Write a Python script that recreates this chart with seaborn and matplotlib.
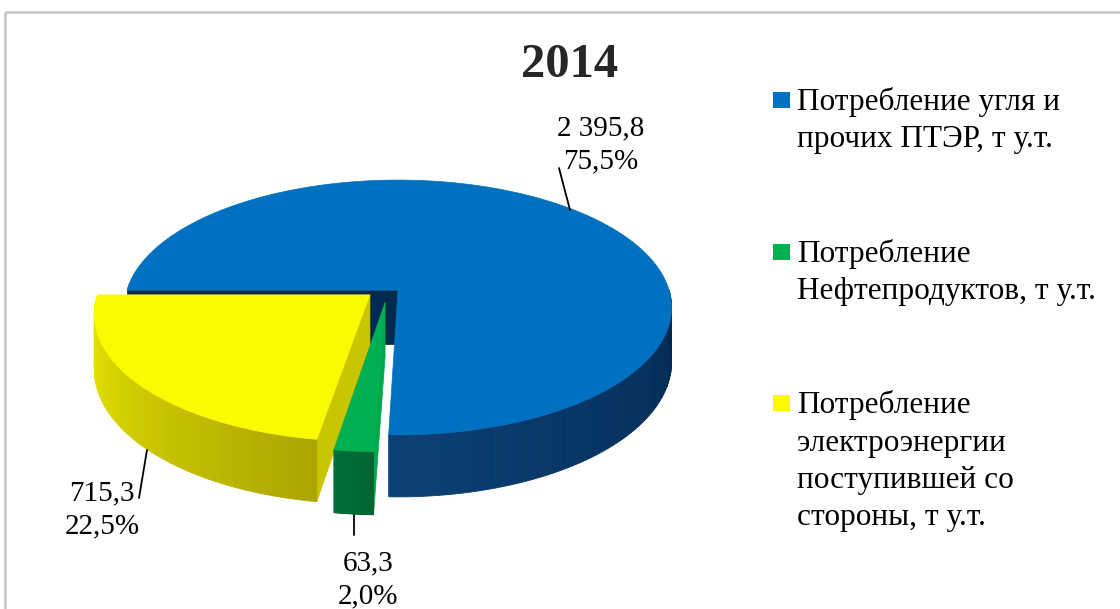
import numpy as np
import matplotlib
matplotlib.use("Agg")
import matplotlib.pyplot as plt
import seaborn as sns
from matplotlib.patches import Polygon, Rectangle
from matplotlib.colors import to_rgb

# --- data ---
title = "2014"
categories = [
    "Потребление угля и\nпрочих ПТЭР, т у.т.",
    "Потребление\nНефтепродуктов, т у.т.",
    "Потребление\nэлектроэнергии\nпоступившей со\nстороны, т у.т.",
]
values = [2395.8, 63.3, 715.3]
explode = [0.0, 0.11, 0.11]
top_colors = ["#0070C0", "#00B050", "#FAFA00"]
wall_colors = [("#0D4076", "#00284E"), ("#00703A", "#006530"), ("#EEEE00", "#ADA500")]
cut_colors = ["#002B4E", "#00A84C", "#C9C500"]

sns.set_theme(style="white")
plt.rcParams["font.family"] = ["Liberation Serif", "DejaVu Serif"]

fig = plt.figure(figsize=(11.2, 6.09), dpi=100)
ax = fig.add_axes([0, 0, 1, 1])
ax.set_xlim(0, 1120)
ax.set_ylim(609, 0)
ax.axis("off")

# pseudo 3d pie geometry (pixels)
CX, CY, RA, RB, DEPTH, H = 398, 290, 271, 125, 7.29, 53.5
EXPLODE_TILT = -20  # degrees, excel pushes exploded slices a bit to the left


def proj(X, Z, down=0.0):
    s = DEPTH / (DEPTH - Z)
    return CX + X * RA * s, CY + Z * RB * s + down * H * s


def arc(t0, t1, off, down=0.0, n=90):
    th = np.radians(np.linspace(t0, t1, n))
    x, y = proj(np.cos(th) + off[0], -np.sin(th) + off[1], down)
    return np.column_stack([x, y])


def area(p):
    x, y = p[:, 0], p[:, 1]
    return np.sum(x * np.roll(y, -1) - np.roll(x, -1) * y)


total = sum(values)
fracs = [v / total for v in values]
starts = 180 - 360 * np.concatenate([[0], np.cumsum(fracs)[:-1]])
ends = starts - 360 * np.array(fracs)

# draw back to front: coal, electricity, oil
for i in [0, 2, 1]:
    t0, t1 = starts[i], ends[i]
    mid = np.radians((t0 + t1) / 2 + EXPLODE_TILT)
    off = (explode[i] * np.cos(mid), -explode[i] * np.sin(mid))

    # cut faces
    for t, sign in [(t0, -1), (t1, 1)]:
        a0 = np.array(proj(off[0], off[1]))
        a1 = np.array(proj(off[0], off[1], 1))
        e0 = arc(t, t, off, n=1)[0]
        e1 = arc(t, t, off, down=1, n=1)[0]
        quad = np.array([a0, e0, e1, a1])
        if area(quad) * sign > 0:
            ax.add_patch(Polygon(quad, closed=True, fc=cut_colors[i], ec=cut_colors[i], lw=0.5))

    # outer wall, front half only
    w0, w1 = min(t0, 0), max(t1, -180)
    if w0 > w1:
        n = 60
        tt = np.linspace(w1, w0, n + 1)
        c_left, c_right = np.array(to_rgb(wall_colors[i][0])), np.array(to_rgb(wall_colors[i][1]))
        for k in range(n):
            top = arc(tt[k], tt[k + 1], off, n=4)
            bot = arc(tt[k + 1], tt[k], off, down=1, n=4)
            u = (k + 0.5) / n
            col = c_left * (1 - u) + c_right * u
            ax.add_patch(Polygon(np.vstack([top, bot]), closed=True, fc=col, ec=col, lw=0.6))

    # top face
    apex = np.array(proj(off[0], off[1]))
    face = np.vstack([apex, arc(t0, t1, off, n=200)])
    ax.add_patch(Polygon(face, closed=True, fc=top_colors[i], ec=top_colors[i], lw=0.5))


def fmt(v):
    return f"{v:,.1f}".replace(",", " ").replace(".", ",")


# data labels with leader lines
label_pos = [(601, 135), (368, 570), (102, 500)]
leaders = [((559, 168), (570, 210)), ((354, 515), (354, 535)), ((147, 450), (139, 498))]
for i, v in enumerate(values):
    lines = [fmt(v), f"{100 * v / total:.1f}%".replace(".", ",")]
    x, y = label_pos[i]
    for j, s in enumerate(lines):
        ax.text(x, y + j * 33, s, ha="center", va="baseline", fontsize=21, color="black")
    (x0, y0), (x1, y1) = leaders[i]
    ax.plot([x0, x1], [y0, y1], color="black", lw=1.3)

ax.text(570, 77, title, ha="center", va="baseline", fontsize=35, fontweight="bold")

# legend
leg_base = [110, 262, 413]
for i, lab in enumerate(categories):
    b = leg_base[i]
    ax.add_patch(Rectangle((773, b - 18), 17, 16, fc=top_colors[i], ec="none"))
    for j, s in enumerate(lab.split("\n")):
        ax.text(797, b + j * 37.5, s, ha="left", va="baseline", fontsize=22.5, color="black")

# chart border
ax.add_patch(Rectangle((5, 12), 1130, 620, fill=False, ec="#C4C4C4", lw=1.8))

fig.savefig("out.png", dpi=100)
